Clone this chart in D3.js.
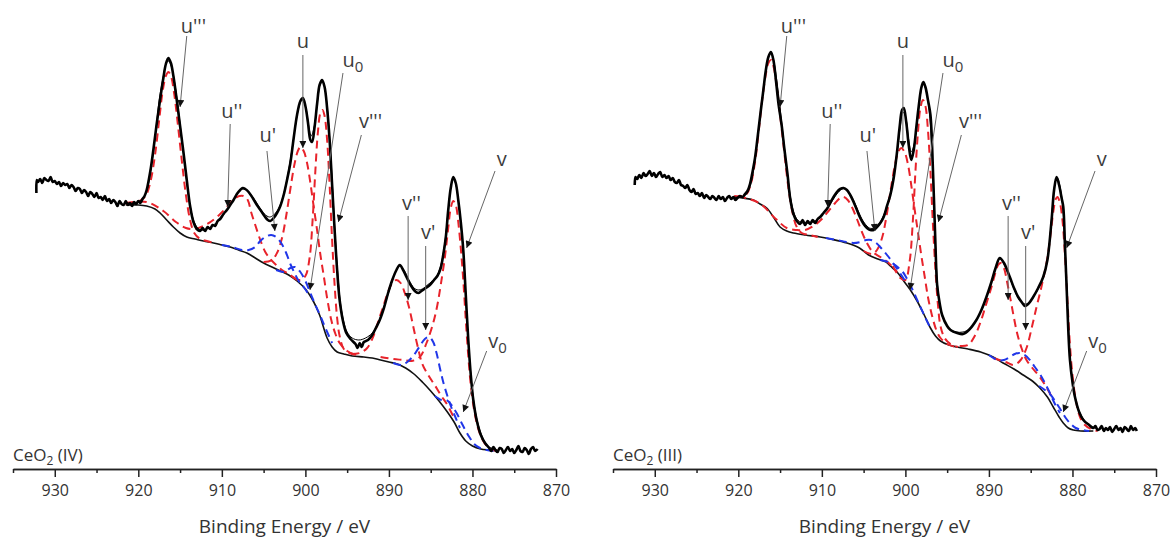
<!DOCTYPE html>
<html lang="en">
<head>
<meta charset="utf-8">
<title>Ce 3d XPS</title>
<script src="https://d3js.org/d3.v7.min.js"></script>
<style type="text/css">
  body { margin: 0; background: #fff; }
  svg { display: block; font-family: "Open Sans", sans-serif; }
  .axis path, .axis line { stroke: #222; stroke-width: 1.5px; }
  .axis text { font-size: 16px; fill: #333; font-family: "Open Sans", sans-serif; }
  .exp { fill: none; stroke: #000; stroke-width: 2.6px; stroke-linejoin: round; }
  .fit { fill: none; stroke: #000; stroke-width: 1px; }
  .bg { fill: none; stroke: #111; stroke-width: 1.6px; }
  .comp { fill: none; stroke-width: 2px; stroke-dasharray: 8 5; }
  .ce4 { stroke: #e8232b; }
  .ce3 { stroke: #2036e8; }
  .arrow { stroke: #666; stroke-width: 1px; }
  .peak { font-size: 20px; fill: #3c3c3c; text-anchor: middle; }
  .title { font-size: 19px; fill: #333; text-anchor: middle; }
  .sample { font-size: 17px; fill: #333; }
</style>
</head>
<body>
<script type="text/javascript">

const w = 1173;
const h = 541;

// binding energy axis (eV) and intensity (a.u.)
const energyDomain = [935, 870];
const intensityDomain = [0, 420];
const majorTicks = [930, 920, 910, 900, 890, 880, 870];
const minorTicks = [935, 925, 915, 905, 895, 885, 875];
const sampleNames = ["IV", "III"];

// ---------- CeO2 (IV) ----------
const exp_IV = [[932.20,276],[932.15,289],[932.00,287],[931.75,290],[931.50,286],[931.25,291],[931.00,289],[930.75,288],[930.50,292],[930.25,287],[930.00,288],[929.75,285],[929.50,287],[929.25,283],[929.00,286],[928.75,284],[928.50,285],[928.25,281],[928.00,284],[927.75,282],[927.50,278],[927.25,281],[927.00,280],[926.75,276],[926.50,279],[926.25,277],[926.00,273],[925.75,277],[925.50,275],[925.25,272],[925.00,276],[924.75,271],[924.50,272],[924.25,269],[924.00,273],[923.75,268],[923.50,270],[923.25,266],[923.00,269],[922.75,267],[922.50,263],[922.25,268],[922.00,265],[921.75,264],[921.50,268],[921.25,264],[921.00,266],[920.75,263],[920.50,267],[920.25,265],[920.00,268],[919.75,266],[919.50,270],[919.25,273],[919.00,279],[918.75,289],[918.50,301],[918.20,319],[917.80,345],[917.40,369],[917.00,391],[916.70,405],[916.40,411],[916.10,406],[915.80,393],[915.40,369],[915.00,343],[914.60,317],[914.20,289],[913.80,263],[913.40,247],[913.00,240],[912.60,238],[912.30,241],[912.00,238],[911.70,242],[911.40,240],[911.10,244],[910.80,243],[910.50,248],[910.20,250],[909.80,255],[909.40,259],[909.00,264],[908.60,269],[908.20,275],[907.80,279],[907.50,281],[907.20,280],[906.80,277],[906.30,271],[905.80,264],[905.30,258],[904.90,253],[904.50,249],[904.20,248],[903.80,251],[903.40,256],[903.00,263],[902.60,274],[902.20,289],[901.80,306],[901.40,331],[901.00,354],[900.60,368],[900.30,371],[900.00,363],[899.70,347],[899.40,329],[899.20,327],[898.90,342],[898.60,365],[898.30,384],[898.00,389],[897.70,382],[897.40,361],[897.10,329],[896.80,284],[896.50,239],[896.20,199],[895.90,169],[895.50,148],[895.10,136],[894.60,130],[894.00,125],[893.75,121],[893.50,126],[893.25,122],[893.00,127],[892.50,129],[892.00,134],[891.50,142],[891.10,149],[890.60,161],[890.10,176],[889.60,189],[889.10,199],[888.70,204],[888.30,199],[887.90,192],[887.40,184],[886.90,178],[886.50,176],[886.10,178],[885.60,181],[885.10,184],[884.60,189],[884.20,193],[883.80,201],[883.50,214],[883.20,231],[882.90,259],[882.60,281],[882.30,292],[882.00,286],[881.70,269],[881.40,247],[881.10,219],[880.80,174],[880.50,129],[880.20,94],[879.90,69],[879.50,49],[879.00,34],[878.50,26],[878.00,21],[877.75,18],[877.50,22],[877.25,19],[877.00,17],[876.75,21],[876.50,20],[876.25,16],[876.00,19],[875.75,22],[875.50,18],[875.25,20],[875.00,16],[874.75,19],[874.50,23],[874.25,18],[874.00,17],[873.75,21],[873.50,19],[873.25,15],[873.00,20],[872.75,22],[872.50,18],[872.20,20]];

const fit_IV = [[921.5,266],[920.5,266],[919.5,270],[919.0,278],[918.5,299],[918.0,331],[917.5,369],[917.0,393],[916.7,405],[916.4,408],[916.1,404],[915.7,389],[915.2,359],[914.7,323],[914.2,287],[913.7,259],[913.2,245],[912.6,239],[911.8,240],[911.0,244],[910.2,250],[909.4,259],[908.6,269],[908.0,277],[907.5,280],[907.0,279],[906.3,272],[905.6,263],[904.9,255],[904.3,252],[903.8,254],[903.3,259],[902.8,269],[902.3,286],[901.8,309],[901.3,337],[900.8,361],[900.4,369],[900.0,363],[899.6,343],[899.3,333],[898.9,344],[898.5,371],[898.2,385],[897.9,387],[897.6,377],[897.3,354],[897.0,319],[896.7,274],[896.4,229],[896.1,193],[895.8,166],[895.4,147],[895.0,137],[894.4,131],[893.6,129],[892.8,131],[892.0,136],[891.3,146],[890.6,162],[889.9,180],[889.2,197],[888.7,203],[888.2,199],[887.6,189],[887.0,181],[886.5,179],[886.0,180],[885.4,184],[884.8,188],[884.2,194],[883.7,207],[883.3,227],[882.9,259],[882.6,281],[882.3,291],[882.0,285],[881.7,269],[881.4,246],[881.1,217],[880.8,173],[880.5,129],[880.2,95],[879.9,71],[879.5,51],[879.0,36],[878.5,27],[878.0,22],[877.0,19]];

const bg_IV = [[921.5,264],[920.0,264],[919.0,263],[918.0,260],[917.4,256],[916.6,249],[915.8,242],[915.0,236],[914.2,232],[913.2,230],[912.2,228],[911.0,226],[910.0,224],[909.0,222],[908.0,219],[907.0,216],[906.0,211],[905.0,206],[904.0,202],[903.0,198],[902.0,194],[901.0,188],[900.0,180],[899.0,167],[898.3,154],[897.4,131],[896.8,122],[896.2,117],[895.4,115],[894.4,113],[893.0,112],[892.0,111],[891.0,109],[890.0,107],[889.0,105],[888.0,101],[887.0,95],[886.0,87],[885.0,78],[884.0,68],[883.0,57],[882.2,47],[881.5,36],[880.8,28],[880.0,23],[879.0,20],[878.0,19],[877.0,18]];

// Ce4+ components (red)
const u3_IV = [[921.5,265],[920.5,266],[919.5,270],[919.0,275],[918.5,289],[918.0,314],[917.5,349],[917.1,377],[916.7,393],[916.4,397],[916.1,393],[915.7,375],[915.3,347],[914.8,309],[914.3,274],[913.8,249],[913.3,236],[912.6,230],[911.8,228],[911.0,226]];
const u2_IV = [[921.5,266],[919.0,267],[917.0,258],[915.5,247],[914.3,241],[913.3,240],[912.2,243],[911.2,248],[910.2,255],[909.3,263],[908.5,270],[907.9,273],[907.4,273],[906.9,269],[906.5,257],[906.0,244],[905.4,229],[904.8,217],[904.2,210],[903.5,204],[902.8,199],[902.0,195],[901.0,189]];
const u_IV = [[905.0,207],[904.0,209],[903.4,216],[902.8,231],[902.3,253],[901.8,280],[901.3,305],[900.9,318],[900.6,322],[900.2,318],[899.8,306],[899.4,286],[899.0,262],[898.6,239],[898.2,214],[897.8,193],[897.4,171],[896.9,149],[896.4,135],[895.9,126],[895.0,118],[894.0,114]];
const v3_IV = [[901.5,192],[900.6,189],[900.0,193],[899.5,211],[899.1,254],[898.8,299],[898.5,337],[898.2,356],[897.95,359],[897.7,353],[897.4,329],[897.1,284],[896.8,229],[896.5,184],[896.2,151],[895.9,133],[895.4,120],[894.7,116],[893.8,114]];
const v2_IV = [[894.5,115],[893.5,116],[892.6,121],[891.9,132],[891.3,147],[890.7,162],[890.1,177],[889.6,186],[889.1,189],[888.6,186],[888.1,176],[887.6,162],[887.1,143],[886.6,124],[886.0,105],[885.3,94],[884.6,85],[883.8,74],[883.0,64],[882.2,51]];
const v_IV = [[891.0,112],[889.5,110],[888.3,109],[887.3,108],[886.3,112],[885.5,126],[884.7,146],[884.2,164],[883.8,184],[883.3,212],[882.9,241],[882.6,261],[882.3,268],[882.0,264],[881.7,247],[881.4,221],[881.1,189],[880.8,149],[880.5,113],[880.2,84],[879.8,59],[879.4,43],[878.9,31],[878.3,23],[877.5,19],[876.5,18]];
// Ce3+ components (blue)
const u1_IV = [[910.0,224],[908.8,222],[907.6,219],[906.8,219],[906.0,222],[905.4,228],[904.8,232],[904.1,234],[903.5,232],[902.9,226],[902.3,216],[901.8,205],[901.3,196],[900.8,188],[900.2,182],[899.5,173]];
const u0_IV = [[903.5,199],[902.5,197],[901.8,201],[901.2,202],[900.6,197],[900.0,188],[899.4,176],[898.8,164],[898.2,153],[897.5,139],[896.8,126]];
const v1_IV = [[889.5,106],[888.5,104],[887.8,107],[887.0,114],[886.3,123],[885.7,130],[885.2,132],[884.7,127],[884.3,116],[883.9,101],[883.5,87],[883.0,73],[882.5,61],[882.0,51],[881.5,41]];
const v0_IV = [[884.5,73],[883.7,69],[883.1,69],[882.5,64],[881.9,56],[881.3,46],[880.8,38],[880.3,31],[879.8,25],[879.1,21],[878.3,19],[877.5,18]];

// ---------- CeO2 (III) ----------
const exp_III = [[932.40,284],[932.30,292],[932.10,290],[931.85,294],[931.60,291],[931.35,296],[931.10,293],[930.85,295],[930.60,298],[930.35,293],[930.10,296],[929.85,292],[929.60,295],[929.35,297],[929.10,292],[928.85,294],[928.60,291],[928.35,293],[928.10,289],[927.85,291],[927.60,287],[927.35,286],[927.10,289],[926.85,284],[926.60,283],[926.35,281],[926.10,284],[925.85,279],[925.60,277],[925.35,280],[925.10,275],[924.85,276],[924.60,273],[924.35,276],[924.10,271],[923.85,274],[923.60,272],[923.35,270],[923.10,273],[922.85,271],[922.60,269],[922.35,273],[922.10,270],[921.85,272],[921.60,268],[921.35,271],[921.10,273],[920.85,270],[920.60,272],[920.35,269],[920.10,271],[919.80,273],[919.50,272],[919.20,275],[918.90,278],[918.60,285],[918.30,297],[918.00,311],[917.70,331],[917.30,359],[917.00,379],[916.70,399],[916.40,412],[916.10,417],[915.80,409],[915.50,389],[915.20,366],[914.80,343],[914.50,321],[914.10,294],[913.80,271],[913.40,255],[913.00,248],[912.60,245],[912.30,249],[912.00,244],[911.70,248],[911.40,245],[911.10,249],[910.80,246],[910.50,250],[910.20,252],[909.80,256],[909.40,260],[909.00,266],[908.60,272],[908.20,277],[907.80,280],[907.40,281],[907.00,279],[906.60,274],[906.20,267],[905.80,259],[905.40,251],[905.00,245],[904.60,241],[904.20,239],[903.80,239],[903.40,242],[903.00,246],[902.60,252],[902.20,263],[901.80,274],[901.40,291],[901.00,317],[900.70,341],[900.40,359],[900.20,361],[899.90,347],[899.60,324],[899.30,309],[899.00,319],[898.70,341],[898.40,363],[898.10,381],[897.85,387],[897.60,382],[897.30,369],[897.00,354],[896.70,299],[896.40,224],[896.20,184],[895.90,166],[895.60,154],[895.00,143],[894.60,139],[893.80,136],[893.10,135],[892.40,139],[891.50,149],[890.90,159],[890.30,172],[889.70,187],[889.20,201],[888.70,211],[888.20,206],[887.50,192],[887.00,181],[886.50,172],[886.00,166],[885.70,163],[885.30,165],[884.70,172],[884.10,181],[883.50,192],[883.00,209],[882.50,249],[882.20,279],[881.90,292],[881.60,284],[881.30,271],[881.10,262],[880.90,224],[880.70,182],[880.50,139],[880.30,109],[880.00,87],[879.70,72],[879.20,57],[878.70,49],[878.00,44],[877.50,41],[877.25,43],[877.00,39],[876.75,40],[876.50,43],[876.25,38],[876.00,41],[875.75,39],[875.50,42],[875.25,37],[875.00,40],[874.75,43],[874.50,39],[874.25,41],[874.00,37],[873.75,42],[873.50,40],[873.25,38],[873.00,43],[872.75,39],[872.50,41],[872.30,38]];

const fit_III = [[920.5,272],[919.5,272],[919.0,275],[918.5,285],[918.0,309],[917.5,345],[917.0,379],[916.6,403],[916.3,414],[916.05,416],[915.8,410],[915.4,389],[915.0,361],[914.5,323],[914.0,287],[913.5,261],[913.0,250],[912.3,246],[911.5,246],[910.6,249],[909.8,256],[909.0,265],[908.2,275],[907.6,280],[907.2,280],[906.7,276],[906.1,267],[905.5,255],[904.9,246],[904.3,241],[903.7,241],[903.1,246],[902.5,256],[902.0,269],[901.5,289],[901.0,316],[900.6,343],[900.3,357],[900.0,353],[899.6,329],[899.3,317],[899.0,323],[898.6,345],[898.2,374],[897.9,385],[897.6,381],[897.3,368],[897.0,344],[896.7,294],[896.4,224],[896.1,179],[895.8,159],[895.3,147],[894.7,140],[893.9,137],[893.1,137],[892.3,140],[891.5,149],[890.9,159],[890.3,172],[889.7,187],[889.2,201],[888.7,210],[888.2,205],[887.5,191],[887.0,180],[886.5,171],[886.0,166],[885.6,165],[885.1,167],[884.6,173],[884.0,182],[883.5,192],[883.0,209],[882.6,241],[882.3,271],[882.0,289],[881.8,291],[881.5,283],[881.2,266],[880.9,224],[880.6,169],[880.3,114],[880.0,89],[879.6,69],[879.1,56],[878.5,48],[877.8,43],[877.0,40]];

const bg_III = [[920.5,272],[919.5,271],[918.2,269],[917.4,265],[916.6,261],[915.8,252],[915.0,242],[914.2,238],[913.4,236],[912.0,234],[910.2,232],[909.0,230],[907.0,226],[905.5,221],[904.4,214],[903.3,210],[902.3,207],[901.8,203],[901.0,197],[900.2,188],[899.4,179],[898.6,168],[897.8,155],[897.0,141],[896.4,133],[895.8,128],[894.8,124],[893.8,122],[892.5,120],[891.0,117],[889.5,112],[888.3,106],[887.0,100],[885.9,94],[884.8,88],[883.9,81],[883.0,72],[882.3,62],[881.6,52],[881.1,46],[880.5,41],[879.9,39],[879.0,38],[877.5,38]];

const u3_III = [[920.5,273],[919.5,273],[919.0,275],[918.5,285],[918.0,307],[917.5,342],[917.1,372],[916.7,395],[916.4,406],[916.1,409],[915.8,403],[915.4,383],[915.0,354],[914.5,317],[914.0,281],[913.5,256],[913.0,242],[912.4,236],[911.5,234],[910.5,232]];
const u2_III = [[920.0,273],[917.5,266],[915.5,250],[914.2,241],[913.0,239],[912.0,239],[911.0,243],[910.0,250],[909.2,258],[908.4,266],[907.8,271],[907.4,272],[906.9,269],[906.4,262],[905.8,250],[905.2,237],[904.6,226],[903.9,217],[903.0,212],[902.0,206],[901.0,197]];
const u_III = [[905.0,218],[904.0,215],[903.4,219],[902.8,231],[902.3,251],[901.8,277],[901.3,302],[900.9,316],[900.5,321],[900.1,317],[899.7,305],[899.3,284],[898.9,260],[898.5,237],[898.1,214],[897.7,193],[897.3,172],[896.8,153],[896.3,139],[895.8,131],[895.0,125],[894.0,122]];
const v3_III = [[901.5,203],[900.6,191],[900.0,189],[899.5,207],[899.1,249],[898.8,297],[898.5,336],[898.2,361],[897.9,369],[897.6,363],[897.3,339],[897.0,297],[896.7,244],[896.4,199],[896.1,164],[895.8,143],[895.3,131],[894.6,125],[893.7,122]];
const v2_III = [[893.5,123],[892.5,124],[891.7,133],[891.0,147],[890.4,163],[889.8,179],[889.3,194],[888.9,204],[888.6,206],[888.2,201],[887.8,186],[887.4,169],[887.0,151],[886.6,135],[886.1,121],[885.5,109],[884.8,101],[884.0,93],[883.2,83],[882.4,71]];
const v_III = [[889.5,111],[888.0,107],[887.0,104],[886.2,109],[885.5,121],[884.8,144],[884.3,162],[883.8,179],[883.4,194],[883.0,211],[882.6,236],[882.3,257],[882.0,270],[881.8,272],[881.5,266],[881.2,249],[880.9,214],[880.6,169],[880.3,124],[880.0,94],[879.6,69],[879.1,52],[878.5,44],[877.8,40],[877.0,38]];
const u1_III = [[909.5,231],[908.2,229],[907.0,227],[906.2,226],[905.4,227],[904.7,229],[904.1,229],[903.5,226],[902.8,220],[902.1,213],[901.4,205],[900.8,198],[900.1,189]];
const u0_III = [[903.0,209],[902.0,207],[901.4,205],[900.8,201],[900.3,197],[899.8,190],[899.3,182],[898.8,173],[898.2,162],[897.6,151],[897.0,141]];
const v1_III = [[890.0,114],[889.0,109],[888.2,109],[887.5,112],[886.9,115],[886.3,116],[885.7,114],[885.1,109],[884.5,102],[883.9,95],[883.3,86],[882.7,76],[882.1,65],[881.5,56]];
const v0_III = [[884.0,83],[883.3,79],[882.6,74],[882.0,67],[881.4,59],[880.8,51],[880.2,45],[879.6,41],[878.8,39],[878.0,38]];

// peak labels: text, subscript, label anchor [eV, a.u.], arrow start, arrow tip
const peakText = ["u'''", "u''", "u'", "u", "u", "v'''", "v''", "v'", "v", "v"];
const peakSub = ["", "", "", "", "0", "", "", "", "", "0"];
const labelAt = [[913.4,436],[908.8,351],[904.5,327],[900.3,421],[894.3,402],[892.2,341],[887.3,259],[885.3,230],[876.5,303],[877.0,121]];
const arrowFrom = [[914.2,433],[909.0,345],[904.6,318],[900.3,414],[895.5,396],[893.3,334],[887.7,253],[885.6,223],[877.3,298],[878.3,118]];
const arrowTo = [[915.0,362],[909.3,262],[903.65,238],[900.3,321],[899.45,179],[896.05,247],[887.7,169],[885.6,139],[880.7,221],[881.1,57]];

const panels = [
  {x0: 13, name: sampleNames[0], exp: exp_IV, fit: fit_IV, bg: bg_IV,
   ce4: [u3_IV, u2_IV, u_IV, v3_IV, v2_IV, v_IV], ce3: [u1_IV, u0_IV, v1_IV, v0_IV]},
  {x0: 613, name: sampleNames[1], exp: exp_III, fit: fit_III, bg: bg_III,
   ce4: [u3_III, u2_III, u_III, v3_III, v2_III, v_III], ce3: [u1_III, u0_III, v1_III, v0_III]}
];

const panelWidth = 543;
const axisY = 469;

const svg = d3.select("body").append("svg").attr("width", w).attr("height", h);

svg.append("defs").append("marker")
  .attr("id", "head")
  .attr("viewBox", "0 0 10 10")
  .attr("refX", 10).attr("refY", 5)
  .attr("markerUnits", "userSpaceOnUse")
  .attr("markerWidth", 9).attr("markerHeight", 7)
  .attr("orient", "auto")
  .append("path").attr("d", "M0,0 L10,5 L0,10 z").attr("fill", "#111");

panels.forEach(p => {
  const x = d3.scaleLinear().domain(energyDomain).range([p.x0, p.x0 + panelWidth]);
  const y = d3.scaleLinear().domain(intensityDomain).range([axisY, axisY - 420]);
  const line = d3.line().x(d => x(d[0])).y(d => y(d[1])).curve(d3.curveCatmullRom);
  const g = svg.append("g");

  g.append("path").datum(p.bg).attr("class", "bg").attr("d", line);

  g.selectAll(".ce4").data(p.ce4).enter().append("path")
    .attr("class", "comp ce4").attr("d", line);
  g.selectAll(".ce3").data(p.ce3).enter().append("path")
    .attr("class", "comp ce3").attr("d", line);

  g.append("path").datum(p.exp).attr("class", "exp").attr("d", line);
  g.append("path").datum(p.fit).attr("class", "fit").attr("d", line);

  // axis: labelled ticks every 10 eV, short ticks in between
  g.append("g").attr("class", "axis")
    .attr("transform", "translate(0," + axisY + ")")
    .call(d3.axisBottom(x).tickValues(majorTicks).tickSize(8).tickSizeOuter(0).tickPadding(8).tickFormat(d3.format("d")));
  g.append("g").attr("class", "axis")
    .attr("transform", "translate(0," + axisY + ")")
    .call(d3.axisBottom(x).tickValues(minorTicks).tickSize(4).tickSizeOuter(0).tickFormat(""));

  g.append("text").attr("class", "title")
    .attr("x", p.x0 + panelWidth / 2).attr("y", 533)
    .text("Binding Energy / eV");

  const s = g.append("text").attr("class", "sample").attr("x", p.x0).attr("y", 461);
  s.append("tspan").text("CeO");
  s.append("tspan").attr("font-size", "12px").attr("dy", 4).text("2");
  s.append("tspan").attr("dy", -4).text(" (" + p.name + ")");

  // peak annotations
  peakText.forEach((t, i) => {
    g.append("line").attr("class", "arrow")
      .attr("x1", x(arrowFrom[i][0])).attr("y1", y(arrowFrom[i][1]))
      .attr("x2", x(arrowTo[i][0])).attr("y2", y(arrowTo[i][1]))
      .attr("marker-end", "url(#head)");
    const lab = g.append("text").attr("class", "peak")
      .attr("x", x(labelAt[i][0])).attr("y", y(labelAt[i][1]));
    lab.append("tspan").text(t);
    if (peakSub[i]) lab.append("tspan").attr("font-size", "15px").attr("dy", 5).text(peakSub[i]);
  });
});
</script>
</body>
</html>
